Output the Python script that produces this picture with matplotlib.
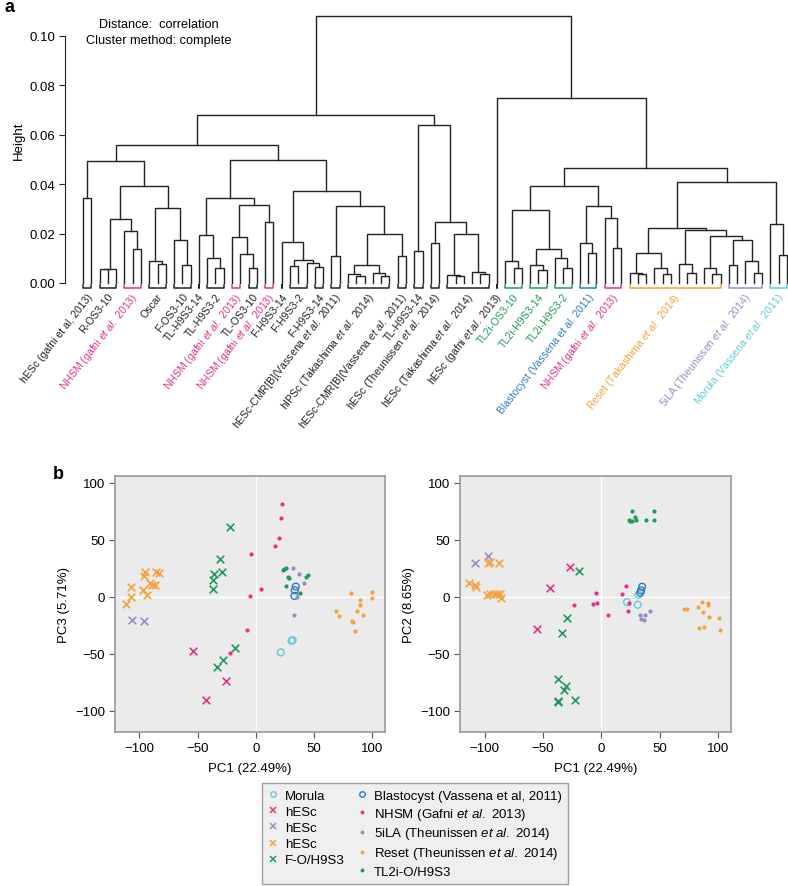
import matplotlib.pyplot as plt
from matplotlib.lines import Line2D

plt.rcParams['font.family'] = ['Liberation Sans', 'DejaVu Sans']
plt.rcParams['mathtext.fontset'] = 'custom'
plt.rcParams['mathtext.rm'] = 'Liberation Sans'
plt.rcParams['mathtext.it'] = 'Liberation Sans:italic'

pink = '#E2338C'
purple = '#9B8AC6'
orange = '#F4A23E'
green = '#1E9B5C'
blue = '#2E7DBE'
cyan = '#62CBD2'
black = '#222222'

EA = r'$\it{et\ al.}$'

# ---------------- panel a: dendrogram ----------------
# leaf groups (left to right), number of replicates in each group
label_texts = ['hESc (gafni et al, 2013)', 'R-OS3-10', 'NHSM (gafni ' + EA + ' 2013)', 'Oscar',
               'F-OS3-10', 'TL-H9S3-14', 'TL-H9S3-2', 'NHSM (gafni ' + EA + ' 2013)', 'TL-OS3-10',
               'NHSM (gafni ' + EA + ' 2013)', 'F-H9S3-14', 'F-H9S3-2', 'F-H9S3-14',
               'hESc-CMR[B](Vassena ' + EA + ' 2011)', 'hIPSc (Takashima ' + EA + ' 2014)',
               'hESc-CMR[B](Vassena ' + EA + ' 2011)', 'TL-H9S3-14', 'hESc (Theunissen ' + EA + ' 2014)',
               'hESc (Takashima ' + EA + ' 2014)', 'hESc (gafni ' + EA + ' 2013)',
               'TL2i-OS3-10', 'TL2i-H9S3-14', 'TL2i-H9S3-2', 'Blastocyst (Vassena et al. 2011)',
               'NHSM (gafni ' + EA + ' 2013)', 'Reset (Takashima ' + EA + ' 2014)',
               '5iLA (Theunissen ' + EA + ' 2014)', 'Morula (Vassena ' + EA + ' 2011)']
label_sizes = [2, 3, 3, 3, 3, 1, 3, 2, 2, 2,
               1, 3, 2, 2, 6, 2, 2, 2, 6, 1,
               3, 3, 3, 3, 3, 12, 5, 3]
label_colors = [black, black, pink, black, black, black, black, pink, black, pink,
                black, black, black, black, black, black, black, black, black, black,
                green, green, green, blue, pink, orange, purple, cyan]

# merges: (left node, right node, height); leaves are 0..85, new nodes numbered from 86
merges = [
    (2, 3, 0.0055), (86, 4, 0.0058), (6, 7, 0.0138), (5, 88, 0.0212), (87, 89, 0.0257),
    (9, 10, 0.0077), (8, 91, 0.009), (12, 13, 0.0073), (11, 93, 0.0175), (92, 94, 0.0304),
    (90, 95, 0.0392), (0, 1, 0.0343), (97, 96, 0.0493),
    (16, 17, 0.006), (15, 99, 0.010), (14, 100, 0.0194), (20, 21, 0.006), (19, 102, 0.0117),
    (18, 103, 0.0186), (22, 23, 0.0248), (104, 105, 0.0317), (101, 106, 0.0344),
    (25, 26, 0.0068), (28, 29, 0.0063), (27, 109, 0.0081), (108, 110, 0.0094), (24, 111, 0.0165),
    (30, 31, 0.0108), (33, 34, 0.0027), (32, 114, 0.0036), (36, 37, 0.0027), (35, 116, 0.004),
    (115, 117, 0.0074), (38, 39, 0.0108), (118, 119, 0.0198), (113, 120, 0.0313),
    (112, 121, 0.0374), (107, 122, 0.0496), (98, 123, 0.056),
    (40, 41, 0.0128), (42, 43, 0.016), (45, 46, 0.003), (44, 127, 0.0033), (48, 49, 0.0036),
    (47, 129, 0.0046), (128, 130, 0.0198), (126, 131, 0.0245), (125, 132, 0.064),
    (124, 133, 0.0682),
    (52, 53, 0.006), (51, 135, 0.009), (55, 56, 0.0054), (54, 137, 0.0074), (58, 59, 0.006),
    (57, 139, 0.010), (138, 140, 0.0138), (136, 141, 0.0296), (61, 62, 0.012), (60, 143, 0.016),
    (64, 65, 0.014), (63, 145, 0.0263), (144, 146, 0.031), (142, 147, 0.0391),
    (67, 68, 0.0037), (66, 149, 0.004), (70, 71, 0.0036), (69, 151, 0.006), (150, 152, 0.0121),
    (73, 74, 0.004), (72, 154, 0.0077), (76, 77, 0.0036), (75, 156, 0.006),
    (78, 79, 0.0071), (81, 82, 0.004), (80, 159, 0.009), (158, 160, 0.0172), (157, 161, 0.0192),
    (155, 162, 0.0216), (153, 163, 0.0223),
    (84, 85, 0.0114), (83, 165, 0.0239), (164, 166, 0.0408), (148, 167, 0.0464),
    (50, 168, 0.0748), (134, 169, 0.108),
]

# ---------------- panel b: PCA ----------------
# left panel: PC1 vs PC3, right panel: PC1 vs PC2  -> [pc1 list, pc list]
morula_l = [[30.6, 31.6, 21.4], [-38.7, -38.2, -48.9]]
morula_r = [[21.9, 31.1, 31.8], [-4.7, -7.0, 1.8]]
blast_l = [[34.3, 33.4, 33.2], [8.9, 5.7, 0.7]]
blast_r = [[34.8, 33.9, 33.3], [8.8, 5.5, 3.5]]
hesc_pink_l = [[-54.1, -42.6, -26.0], [-47.4, -90.7, -73.7]]
hesc_pink_r = [[-55.0, -43.6, -26.5], [-28.6, 7.9, 26.3]]
hesc_purple_l = [[-106.6, -95.7], [-20.6, -21.2]]
hesc_purple_r = [[-108.5, -97.2], [29.8, 35.6]]
hesc_orange_l = [[-111.5, -107.2, -107.2, -94.9, -95.7, -96.6, -93.7, -90.8, -89.1, -86.5, -86.2, -83.6],
                 [-6.0, 8.9, 0.1, 22.0, 18.2, 5.7, 1.6, 11.8, 10.1, 10.1, 22.0, 21.2]]
hesc_orange_r = [[-113.4, -108.5, -107.7, -97.2, -95.7, -88.0, -98.0, -95.2, -92.3, -89.5, -86.6, -85.8],
                 [12.3, 9.9, 8.8, 29.2, 30.4, 29.8, 1.2, 2.6, 2.6, 2.6, 2.0, -0.9]]
fo_l = [[-22.0, -31.1, -36.3, -36.9, -36.9, -29.1, -18.2, -28.3, -33.5],
        [61.4, 32.9, 20.3, 14.7, 7.2, 22.0, -45.4, -55.3, -61.5]]
fo_r = [[-18.8, -29.3, -33.9, -37.3, -30.2, -31.6, -37.3, -36.8, -22.5],
        [22.5, -18.4, -31.5, -72.4, -78.8, -82.1, -92.3, -91.5, -90.5]]
nhsm_l = [[22.8, 22.0, 20.0, 16.2, -3.9, 4.7, -4.7, -7.3, -22.5],
          [81.0, 69.4, 51.3, 44.5, 37.8, 6.6, 0.7, -29.3, -49.5]]
nhsm_r = [[-4.6, -3.7, -7.4, -23.1, 5.4, 21.1, 17.7, 22.5, 23.9],
          [2.9, -5.3, -6.7, -7.3, -16.4, 9.3, 2.6, -12.6, -5.3]]
ila_l = [[32.0, 37.2, 41.2, 35.7, 32.6], [25.5, 19.7, 12.4, -0.1, -15.9]]
ila_r = [[33.0, 37.3, 33.9, 36.8, 41.9], [-16.4, -16.4, -19.9, -20.4, -12.6]]
reset_l = [[81.4, 100.0, 100.0, 89.4, 89.4, 86.6, 91.7, 69.3, 71.6, 82.2, 83.7, 85.1],
           [3.0, 4.5, -1.3, -2.8, -7.2, -12.4, -15.9, -12.4, -16.8, -21.2, -22.6, -30.5]]
reset_r = [[70.4, 73.2, 82.3, 86.0, 90.9, 90.9, 86.6, 92.3, 100.9, 101.1, 83.8, 88.0],
           [-11.1, -10.5, -9.1, -4.7, -5.3, -7.0, -13.4, -17.5, -19.0, -29.5, -27.7, -26.3]]
tl2i_l = [[23.4, 25.7, 24.5, 28.6, 25.7, 43.5, 44.9, 37.7, 28.0],
          [23.4, 25.5, 24.5, 16.2, 9.5, 17.7, 19.1, 3.1, 17.0]]
tl2i_r = [[25.9, 24.8, 29.1, 29.6, 38.2, 44.7, 45.3, 23.9, 26.5],
          [75.0, 66.9, 70.1, 67.2, 67.7, 67.7, 75.6, 67.2, 66.5]]

legend_labels = ['Morula', 'hESc', 'hESc', 'hESc', 'F-O/H9S3',
                 'Blastocyst (Vassena et al, 2011)', 'NHSM (Gafni ' + EA + ' 2013)',
                 '5iLA (Theunissen ' + EA + ' 2014)', 'Reset (Theunissen ' + EA + ' 2014)', 'TL2i-O/H9S3']

fig = plt.figure(figsize=(7.88, 8.87), dpi=100)

# ----- dendrogram -----
ax = fig.add_axes([0.0825, 0.6618, 0.9175, 0.3326])
n_leaves = sum(label_sizes)
xs = list(range(n_leaves))
hs = [0.0] * n_leaves
for a, b, h in merges:
    ax.plot([xs[a], xs[a], xs[b], xs[b]], [hs[a], h, h, hs[b]], color=black, lw=1.0,
            solid_joinstyle='miter', clip_on=False)
    xs.append((xs[a] + xs[b]) / 2)
    hs.append(h)

start = 0
for text, size, col in zip(label_texts, label_sizes, label_colors):
    a, b = start, start + size - 1
    ax.plot([a, a, b, b], [-0.0009, -0.0019, -0.0019, -0.0009], color=col, lw=1.1, clip_on=False)
    ax.text((a + b) / 2 + 0.4, -0.0045, text, color=col, fontsize=7.6, rotation=52,
            rotation_mode='anchor', ha='right', va='center')
    start += size

ax.set_xlim(-2.174, 85.14)
ax.set_ylim(-0.00648, 0.11296)
for s in ['top', 'right', 'bottom']:
    ax.spines[s].set_visible(False)
ax.spines['left'].set_bounds(0, 0.10)
ax.spines['left'].set_color(black)
ax.set_xticks([])
ax.set_yticks([0, 0.02, 0.04, 0.06, 0.08, 0.10])
ax.set_yticklabels(['0.00', '0.02', '0.04', '0.06', '0.08', '0.10'])
ax.tick_params(axis='y', labelsize=9.5, length=4, color=black, pad=3)
ax.set_ylabel('Height', fontsize=9.5)
ax.yaxis.set_label_coords(-0.055, 0.54)
ax.text(9.1, 0.1049, 'Distance:  correlation', ha='center', va='center', fontsize=9.2)
ax.text(9.1, 0.0984, 'Cluster method: complete', ha='center', va='center', fontsize=9.2)

# ----- PCA panels -----
series_l = [(morula_l, cyan, 'o'), (hesc_pink_l, pink, 'x'), (hesc_purple_l, purple, 'x'),
            (hesc_orange_l, orange, 'x'), (fo_l, green, 'x'), (blast_l, blue, 'o'),
            (nhsm_l, pink, '.'), (ila_l, purple, '.'), (reset_l, orange, '.'), (tl2i_l, green, '.')]
series_r = [(morula_r, cyan, 'o'), (hesc_pink_r, pink, 'x'), (hesc_purple_r, purple, 'x'),
            (hesc_orange_r, orange, 'x'), (fo_r, green, 'x'), (blast_r, blue, 'o'),
            (nhsm_r, pink, '.'), (ila_r, purple, '.'), (reset_r, orange, '.'), (tl2i_r, green, '.')]


def draw_marks(axp, series):
    for (px, py), col, m in series:
        if m == 'o':
            axp.scatter(px, py, s=24, facecolors='none', edgecolors=col, linewidths=1.0, zorder=3)
        elif m == 'x':
            axp.scatter(px, py, s=30, marker='x', color=col, linewidths=1.2, zorder=3)
        else:
            axp.scatter(px, py, s=9, color=col, linewidths=0, zorder=3)


axL = fig.add_axes([0.146, 0.1736, 0.3426, 0.2886])
axR = fig.add_axes([0.5838, 0.1736, 0.344, 0.2886])
for axp, series, ylab in [(axL, series_l, 'PC3 (5.71%)'), (axR, series_r, 'PC2 (8.65%)')]:
    axp.set_facecolor('#EBEBEB')
    axp.axhline(0, color='white', lw=1.0, zorder=1)
    axp.axvline(0, color='white', lw=1.0, zorder=1)
    draw_marks(axp, series)
    axp.set_xlim(-121, 111)
    axp.set_ylim(-118.8, 106)
    axp.set_xticks([-100, -50, 0, 50, 100])
    axp.set_yticks([-100, -50, 0, 50, 100])
    axp.set_xticklabels(['\u2212100', '\u221250', '0', '50', '100'])
    axp.set_yticklabels(['\u2212100', '\u221250', '0', '50', '100'])
    axp.tick_params(labelsize=9.5, length=4, color='#555555', pad=3)
    for s in axp.spines.values():
        s.set_color('#999999')
        s.set_linewidth(1.2)
    axp.set_xlabel('PC1 (22.49%)', fontsize=9.5, labelpad=6)
    axp.set_ylabel(ylab, fontsize=9.5, labelpad=4)

# legend
leg_markers = ['o', 'x', 'x', 'x', 'x', 'o', '.', '.', '.', '.']
leg_colors = [cyan, pink, purple, orange, green, blue, pink, purple, orange, green]
handles = []
for m, c in zip(leg_markers, leg_colors):
    if m == 'o':
        handles.append(Line2D([], [], ls='none', marker='o', ms=4, mfc='none', mec=c, mew=1.0))
    elif m == 'x':
        handles.append(Line2D([], [], ls='none', marker='x', ms=4, color=c, mew=1.1))
    else:
        handles.append(Line2D([], [], ls='none', marker='o', ms=2.8, color=c, mew=0))
leg = fig.legend(handles, legend_labels, ncol=2, loc='center', bbox_to_anchor=(0.5266, 0.0592),
                 fontsize=9.5, frameon=True, fancybox=False, facecolor='#EBEBEB', edgecolor='#888888',
                 handlelength=0.8, handletextpad=0.5, columnspacing=0.9, labelspacing=0.3,
                 borderpad=0.45)
leg.get_frame().set_linewidth(1.0)

fig.text(0.006, 0.991, 'a', fontsize=13, fontweight='bold', va='center', ha='left')
fig.text(0.067, 0.4645, 'b', fontsize=13, fontweight='bold', va='center', ha='left')

fig.savefig('out.png', dpi=100)
